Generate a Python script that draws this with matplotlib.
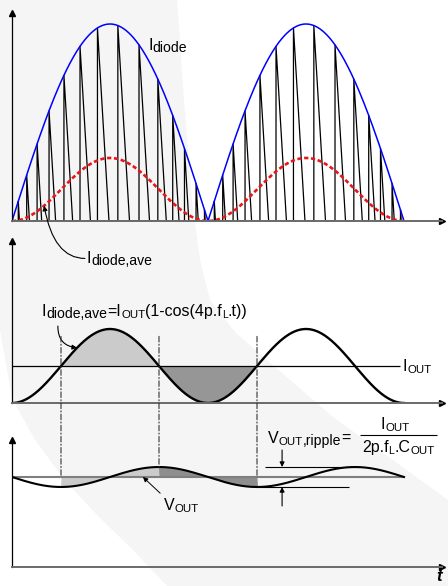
import numpy as np
import matplotlib.pyplot as plt
from matplotlib.path import Path
from matplotlib.patches import PathPatch, ConnectionPatch
import matplotlib.transforms as mtransforms

plt.rcParams['font.family'] = ['Liberation Sans', 'DejaVu Sans']

### Data (time in units of the line period 1/fL) ###
I_PK = 1.0            # peak of the diode current envelope
I_AVE_TOP = 0.16      # I_OUT on the scale of the top panel
# start of each switching pulse, as fraction of a half line cycle
pulse_phase = [0.032, 0.075, 0.128, 0.189, 0.265, 0.347, 0.436, 0.540,
               0.648, 0.744, 0.820, 0.880, 0.939, 0.982]
T_FALL = 0.03         # fall time of a pulse with peak I_PK
I_OUT = 1.0
V_OUT = 1.0
V_RIPPLE = 0.111
cross_t = [0.125, 0.375, 0.625]   # where I_diode,ave crosses I_OUT

t = np.linspace(0, 1, 801)
i_env = I_PK*np.abs(np.sin(2*np.pi*t))
i_ave_top = I_AVE_TOP*(1 - np.cos(4*np.pi*t))
i_ave = I_OUT*(1 - np.cos(4*np.pi*t))
v_out = V_OUT - V_RIPPLE*np.sin(4*np.pi*t)

### Figure layout (pixels) ###
W, H = 448, 586
X0, X1, PX_T = 12, 442, 392
fig = plt.figure(figsize=(W/100, H/100), dpi=100)
fig.patch.set_facecolor('white')
renderer = fig.canvas.get_renderer()

# faint swoosh in the background
pts_out = [(177, 0), (184, 100), (192, 200), (200, 260), (210, 300), (235, 332),
           (267, 360), (333, 417), (390, 458), (448, 500)]
pts_in = [(167, 586), (133, 550), (100, 518), (67, 483), (35, 440), (12, 398), (0, 330)]
poly = [(0, 0)] + pts_out + [(448, 586)] + pts_in + [(0, 0)]
to_fig = mtransforms.Affine2D().scale(1/W, -1/H).translate(0, 1) + fig.transFigure
fig.add_artist(PathPatch(Path(poly), facecolor='#f5f5f5', edgecolor='none',
                         transform=to_fig, zorder=-5))

fs = 11.5
SUB, CAPS, TINY = 0.88, 0.72, 0.65   # subscript scales


def rich(ax, x, y, parts, ha='left', size=fs):
    """Write text made of (string, scale) pieces; scale < 1 means subscript."""
    base = ax.transData
    items = []
    for s, k in parts:
        tx = ax.text(x, y, s, fontsize=size*k, va='baseline', ha='left',
                     transform=base, clip_on=False)
        items.append((tx, k, tx.get_window_extent(renderer).width))
    total = sum(w for _, _, w in items)
    off = -total/2 if ha == 'center' else 0
    for tx, k, w in items:
        dy = -1.8 if k < 1 else 0
        tx.set_transform(mtransforms.offset_copy(base, fig=fig, x=off, y=dy, units='dots'))
        off += w
    return items


def add_panel(y_top, y_base, px_unit):
    ax = fig.add_axes([X0/W, 1 - y_base/H, (X1 - X0)/W, (y_base - y_top)/H])
    ax.set_xlim(0, (X1 - X0)/PX_T)
    ax.set_ylim(0, (y_base - y_top)/px_unit)
    ax.patch.set_alpha(0)
    for s in ['top', 'right']:
        ax.spines[s].set_visible(False)
    ax.spines['bottom'].set_color('#6a6a6a')
    ax.spines['bottom'].set_linewidth(1.4)
    ax.spines['left'].set_linewidth(0.9)
    ax.set_xticks([])
    ax.set_yticks([])
    ax.plot(1, 0, '>', color='k', ms=4.5, transform=ax.transAxes, clip_on=False)
    ax.plot(0, 1, '^', color='k', ms=4, transform=ax.transAxes, clip_on=False)
    return ax


arrow = dict(arrowstyle='-|>', color='k', lw=0.8, mutation_scale=7, shrinkA=0, shrinkB=0)

### Top panel: diode current ###
ax1 = add_panel(13, 221, 197)
xs, ys = [], []
for k in range(2):
    for p in pulse_phase:
        t0 = 0.5*(k + p)
        h = I_PK*abs(np.sin(2*np.pi*t0))
        xs += [t0, t0, t0 + T_FALL*h]
        ys += [0, h, 0]
ax1.plot(xs, ys, color='black', lw=0.9)
ax1.plot(t, i_env, color='#0000ff', lw=1.1)
ax1.plot(t, i_ave_top, color='#e8161b', lw=1.9, dashes=(1.6, 1.0))
rich(ax1, 0.347, 0.868, [('I', 1), ('diode', SUB)])
ta = 0.082
rich(ax1, 0.19, -0.213, [('I', 1), ('diode,ave', SUB)])
ax1.annotate('', xy=(ta, I_AVE_TOP*(1 - np.cos(4*np.pi*ta))), xytext=(0.186, -0.19),
             annotation_clip=False,
             arrowprops=dict(arrow, connectionstyle='angle3,angleA=0,angleB=100'))

### Middle panel: average diode current ###
ax2 = add_panel(241, 403, 37)
ax2.fill_between(t, i_ave, I_OUT, where=(t >= cross_t[0]) & (t <= cross_t[1]),
                 color='#cbcbcb', lw=0, interpolate=True)
ax2.fill_between(t, i_ave, I_OUT, where=(t >= cross_t[1]) & (t <= cross_t[2]),
                 color='#969696', lw=0, interpolate=True)
ax2.hlines(I_OUT, 0, 0.99, color='k', lw=0.9)
ax2.plot(t, i_ave, color='k', lw=1.7)
rich(ax2, 0.997, 0.865, [('I', 1), ('OUT', CAPS)])
rich(ax2, 0.0765, 2.35, [('I', 1), ('diode,ave', SUB), ('=I', 1), ('OUT', CAPS),
                         ('(1-cos(4p.f', 1), ('L', TINY), ('.t))', 1)])
tb = 0.166
ax2.annotate('', xy=(tb, I_OUT*(1 - np.cos(4*np.pi*tb))), xytext=(0.117, 2.08),
             arrowprops=dict(arrow, connectionstyle='arc3,rad=0.45'))

### Bottom panel: output voltage ###
ax3 = add_panel(440, 567, 90)
ax3.fill_between(t, v_out, V_OUT, where=(t >= cross_t[0]) & (t <= cross_t[1]),
                 color='#cbcbcb', lw=0, interpolate=True)
ax3.fill_between(t, v_out, V_OUT, where=(t >= cross_t[1]) & (t <= cross_t[2]),
                 color='#8e8e8e', lw=0, interpolate=True)
ax3.hlines(V_OUT, 0, 1, color='#7f7f7f', lw=1.5)
ax3.plot(t, v_out, color='k', lw=1.5)
ax3.hlines(V_OUT + V_RIPPLE, 0.645, 0.885, color='k', lw=0.8)
ax3.hlines(V_OUT - V_RIPPLE, 0.625, 0.86, color='k', lw=0.8)
ax3.annotate('', xy=(0.689, V_OUT + V_RIPPLE), xytext=(0.689, 1.3), arrowprops=arrow)
ax3.annotate('', xy=(0.689, V_OUT - V_RIPPLE), xytext=(0.689, 0.678), arrowprops=arrow)
rich(ax3, 0.653, 1.378, [('V', 1), ('OUT', CAPS), (',ripple', SUB), ('=', 1)])
rich(ax3, 0.977, 1.533, [('I', 1), ('OUT', CAPS)], ha='center')
ax3.hlines(1.467, 0.888, 1.084, color='k', lw=0.8, clip_on=False)
rich(ax3, 0.985, 1.278, [('2p.f', 1), ('L', TINY), ('.C', 1), ('OUT', CAPS)], ha='center')
rich(ax3, 0.388, 0.633, [('V', 1), ('OUT', CAPS)])
ax3.annotate('', xy=(0.334, V_OUT), xytext=(0.378, 0.82), arrowprops=dict(arrow, lw=0.7))
ax3.text(1.09, -0.155, 't', fontsize=12, fontstyle='italic', fontweight='bold',
         ha='center', va='baseline')

# dash-dot markers linking the crossings to the voltage panel
for tc in cross_t:
    vb = max(V_OUT, V_OUT - V_RIPPLE*np.sin(4*np.pi*tc))
    fig.add_artist(ConnectionPatch(xyA=(tc, 1.8), coordsA=ax2.transData,
                                   xyB=(tc, vb), coordsB=ax3.transData,
                                   color='#333333', lw=0.8,
                                   linestyle=(0, (5, 2, 1, 2))))

plt.savefig('out.png', dpi=100)
